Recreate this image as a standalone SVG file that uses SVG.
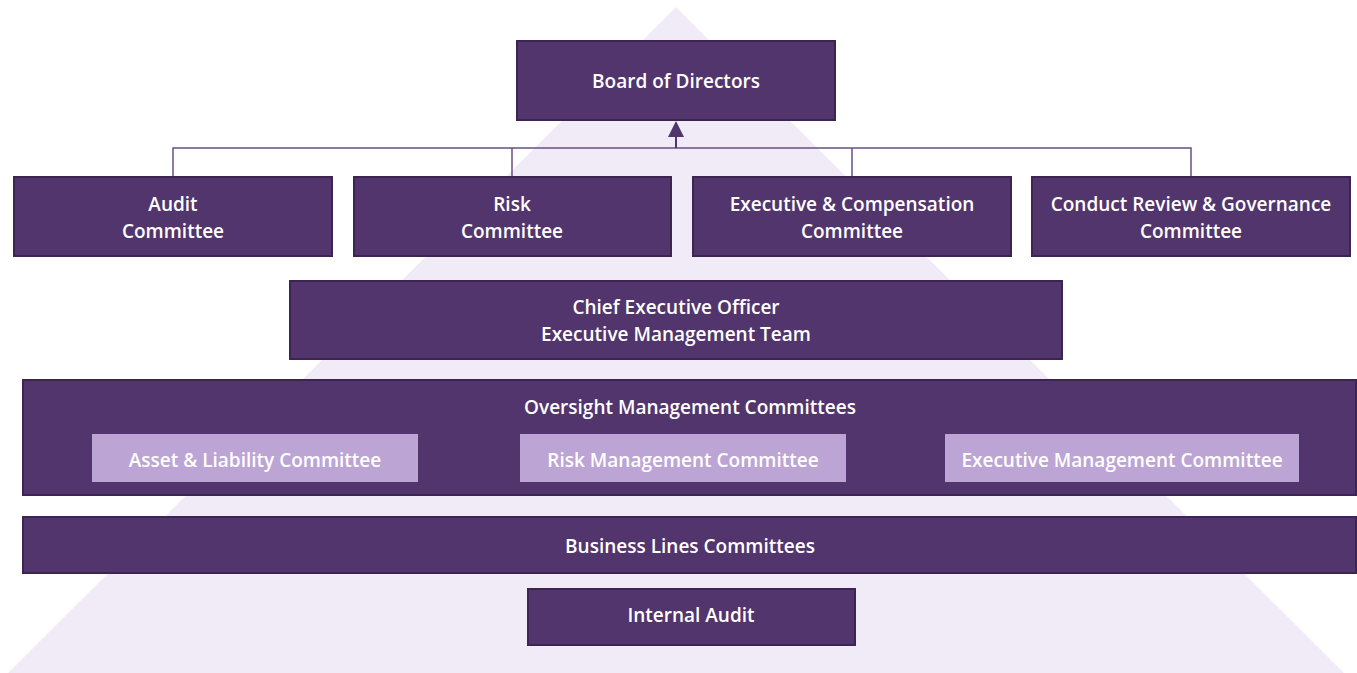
<svg xmlns="http://www.w3.org/2000/svg" width="1357" height="673" viewBox="0 0 1357 673">
<style>
.n{fill:#52356d;stroke:#3d2553;stroke-width:2}
.s{fill:#bca5d4}
.t{font-family:"Open Sans","Noto Sans","Liberation Sans",sans-serif;font-weight:600;font-size:19px;fill:#ffffff;text-anchor:middle}
.c{fill:none;stroke:#6b4f86;stroke-width:1.5}
</style>
<polygon points="676,7 1344,673 8,673" fill="#f1ebf7"/>
<g id="connectors">
<path class="c" d="M173,176 V148 H1191 V176 M512,148 V176 M852,148 V176"/>
<line x1="676" y1="148" x2="676" y2="137" stroke="#52356d" stroke-width="2"/>
<path d="M668,137 L676,121 L684,137 Z" fill="#52356d"/>
</g>
<g id="board"><rect class="n" x="517" y="41" width="318" height="79"/><text class="t" x="676" y="88">Board of Directors</text></g>
<g id="audit"><rect class="n" x="14" y="177" width="318" height="79"/><text class="t" x="173" y="211">Audit</text><text class="t" x="173" y="238">Committee</text></g>
<g id="risk"><rect class="n" x="354" y="177" width="317" height="79"/><text class="t" x="512" y="211">Risk</text><text class="t" x="512" y="238">Committee</text></g>
<g id="exec"><rect class="n" x="693" y="177" width="318" height="79"/><text class="t" x="852" y="211">Executive &amp; Compensation</text><text class="t" x="852" y="238">Committee</text></g>
<g id="conduct"><rect class="n" x="1032" y="177" width="318" height="79"/><text class="t" x="1191" y="211">Conduct Review &amp; Governance</text><text class="t" x="1191" y="238">Committee</text></g>
<g id="ceo"><rect class="n" x="290" y="281" width="772" height="78"/><text class="t" x="676" y="314">Chief Executive Officer</text><text class="t" x="676" y="341">Executive Management Team</text></g>
<g id="oversight"><rect class="n" x="23" y="380" width="1333" height="115"/><text class="t" x="690" y="414">Oversight Management Committees</text>
<g id="alco"><rect class="s" x="92" y="434" width="326" height="48"/><text class="t" x="255" y="467">Asset &amp; Liability Committee</text></g>
<g id="rmc"><rect class="s" x="520" y="434" width="326" height="48"/><text class="t" x="683" y="467">Risk Management Committee</text></g>
<g id="emc"><rect class="s" x="945" y="434" width="354" height="48"/><text class="t" x="1122" y="467">Executive Management Committee</text></g>
</g>
<g id="business"><rect class="n" x="23" y="517" width="1333" height="56"/><text class="t" x="690" y="553">Business Lines Committees</text></g>
<g id="ia"><rect class="n" x="528" y="589" width="327" height="56"/><text class="t" x="691" y="622">Internal Audit</text></g>
</svg>
